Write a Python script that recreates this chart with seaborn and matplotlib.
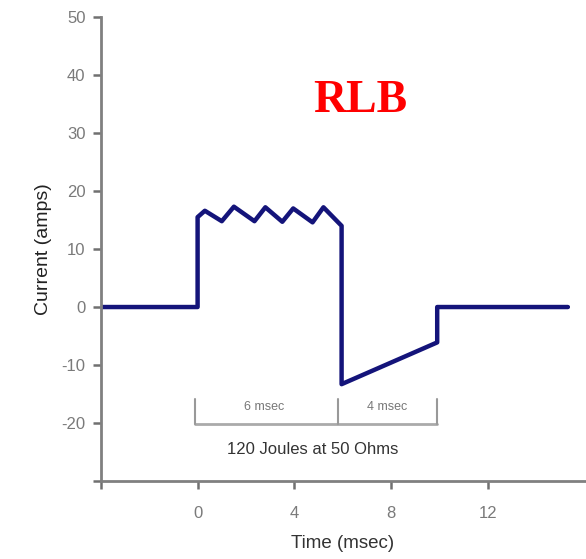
import matplotlib
matplotlib.use("Agg")
import matplotlib.pyplot as plt
import seaborn as sns
import pandas as pd

# RLB waveform (time in msec, current in amps)
time_ms = [-4, 0, 0, 0.3, 1.0, 1.5, 2.35, 2.8, 3.5, 3.95, 4.75, 5.2, 5.95, 5.95, 9.9, 9.9, 15.3]
current_a = [0, 0, 15.5, 16.6, 14.8, 17.3, 14.8, 17.2, 14.7, 17.0, 14.6, 17.2, 14.0, -13.3, -6.1, 0, 0]

x_ticks = [-4, 0, 4, 8, 12]
x_tick_labels = ['', '0', '4', '8', '12']
y_ticks = [-30, -20, -10, 0, 10, 20, 30, 40, 50]
y_tick_labels = ['', '-20', '-10', '0', '10', '20', '30', '40', '50']

# phase bracket under the pulse
bracket_t = [-0.1, 5.8, 9.9]
phase_labels = ['6 msec', '4 msec']
energy_label = '120 Joules at 50 Ohms'

sns.set_style("white")
plt.rcParams['font.family'] = ['Liberation Sans', 'DejaVu Sans']

df = pd.DataFrame({'t': time_ms, 'i': current_a})

fig = plt.figure(figsize=(5.86, 5.59), dpi=100)
ax = fig.add_axes([0.172, 0.1395, 0.826, 0.830])

sns.lineplot(data=df, x='t', y='i', sort=False, estimator=None,
             color='#14147a', linewidth=3.2, ax=ax)

ax.set_xlim(-4, 16)
ax.set_ylim(-30, 50)
ax.set_xticks(x_ticks)
ax.set_xticklabels(x_tick_labels)
ax.set_yticks(y_ticks)
ax.set_yticklabels(y_tick_labels)

for side in ['top', 'right']:
    ax.spines[side].set_visible(False)
for side in ['left', 'bottom']:
    ax.spines[side].set_color('#808080')
    ax.spines[side].set_linewidth(2)
ax.tick_params(axis='both', direction='out', length=6, width=1.8, color='#707070',
               labelsize=12, labelcolor='#7a7a7a', bottom=True, left=True)
ax.tick_params(axis='x', pad=12)
ax.tick_params(axis='y', pad=5)

ax.set_xlabel('Time (msec)', fontsize=13.5, color='#333333', labelpad=10)
ax.set_ylabel('Current (amps)', fontsize=14, color='#222222', labelpad=7)

# bracket
ax.plot([bracket_t[0], bracket_t[-1]], [-20.2, -20.2], color='#aaaaaa', lw=2)
for bt in bracket_t:
    ax.plot([bt, bt], [-15.8, -20.2], color='#999999', lw=1.5)
ax.text((bracket_t[0] + bracket_t[1]) / 2 - 0.1, -17.2, phase_labels[0],
        ha='center', va='center', fontsize=9, color='#777777')
ax.text((bracket_t[1] + bracket_t[2]) / 2, -17.2, phase_labels[1],
        ha='center', va='center', fontsize=9, color='#777777')
ax.text(4.75, -24.6, energy_label, ha='center', va='center', fontsize=12, color='#333333')

ax.text(6.7, 35.5, 'RLB', ha='center', va='center', fontsize=33, color='red',
        fontweight='bold', family=['Liberation Serif', 'DejaVu Serif'])

fig.savefig('out.png', dpi=100)
